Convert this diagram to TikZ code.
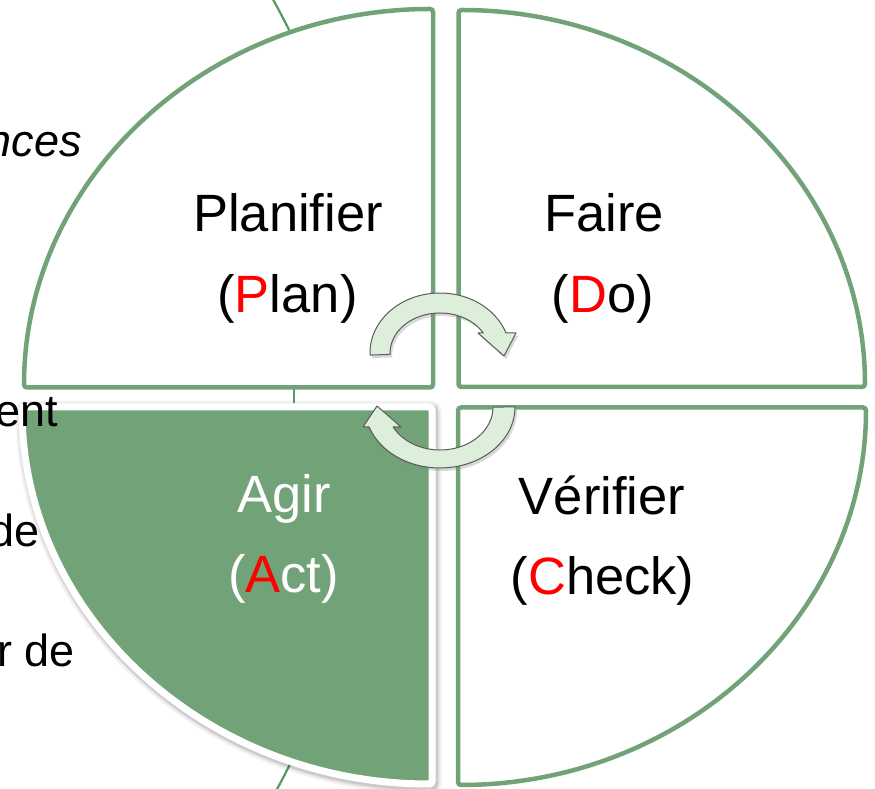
\documentclass[tikz,border=0pt]{standalone}
\usepackage{fontspec}
\setmainfont{Liberation Sans}
\usetikzlibrary{shadows}
\definecolor{qgreen}{RGB}{114,163,120}
\definecolor{thingreen}{RGB}{86,154,98}
\definecolor{arrowfill}{RGB}{221,239,219}
\definecolor{arrowline}{RGB}{90,90,90}
\begin{document}
\begin{tikzpicture}[x=1pt,y=1pt,
  quad/.style={draw=qgreen, line width=4.5pt, fill=white, rounded corners=3pt},
  lbl/.style={font=\fontsize{52.5}{60}\selectfont, inner sep=0pt, anchor=base},
  side/.style={font=\fontsize{45}{50}\selectfont, inner sep=0pt, anchor=base east},
  thinline/.style={draw=thingreen, line width=2.2pt},
  carrow/.style={fill=arrowfill, draw=arrowline, line width=1pt, line join=round,
    drop shadow={opacity=0.3, shadow xshift=2pt, shadow yshift=-3pt}}
]
\useasboundingbox (0,0) rectangle (875,789);

% background lines
\coordinate (bc) at (-447,391);
\draw[thinline] (bc) ++(29.5:823pt) arc[start angle=29.5, end angle=24, radius=823pt];
\draw[thinline] (bc) ++(-24:823pt) arc[start angle=-24, end angle=-29.5, radius=823pt];
\draw[thinline] (294,386) -- (294,401);

% quadrants
\path[quad] (433,401.5) -- (24,401.5) arc[start angle=180, end angle=90, x radius=409pt, y radius=378.5pt] -- cycle;
\path[quad] (458.5,402) -- (458.5,779) arc[start angle=90, end angle=0, x radius=406.5pt, y radius=377pt] -- cycle;
\path[quad] (458,381.5) -- (866,381.5) arc[start angle=0, end angle=-90, x radius=408pt, y radius=377.5pt] -- cycle;

% Act shadow
\foreach \w/\o in {16/0.05, 12/0.07, 9/0.1} {
  \draw[line width=\w pt, black, opacity=\o, rounded corners=3pt, shift={(1.5,-2)}]
    (432,382) -- (432,5) arc[start angle=270, end angle=180, x radius=410pt, y radius=377pt] -- cycle;
}
\path[fill=qgreen, draw=white, line width=7pt, rounded corners=3pt]
  (432,382) -- (432,5) arc[start angle=270, end angle=180, x radius=410pt, y radius=377pt] -- cycle;

% curved arrows
\path[carrow] (370.04,433.9) arc[start angle=182, end angle=19.5, x radius=70pt, y radius=60pt]
  -- (516,456) -- (504,433) -- (478,456) -- (483.3,456)
  arc[start angle=30, end angle=182, x radius=50pt, y radius=40pt] -- cycle;
\path[carrow] (515,382) arc[start angle=0, end angle=-160.9, x radius=75pt, y radius=61pt]
  -- (363,362) -- (377,383) -- (401,362) -- (393.1,362)
  arc[start angle=-152.3, end angle=0, x radius=53pt, y radius=43pt] -- cycle;

% labels
\node[lbl] (plan1) at (288,557) {Planifier};
\node[lbl] (plan2) at (287.5,476) {(\textcolor{red}{P}lan)};
\node[lbl] (do1) at (604,557) {Faire};
\node[lbl] (do2) at (603,476) {(\textcolor{red}{D}o)};
\node[lbl] (chk1) at (602,274) {Vérifier};
\node[lbl] (chk2) at (602.5,194) {(\textcolor{red}{C}heck)};
\node[lbl, text=white] (act1) at (284,276) {Agir};
\node[lbl, text=white] (act2) at (283.5,196) {(\textcolor{red}{A}ct)};

% side texts
\node[side] (s1) at (82,632.3) {\itshape nces};
\node[side] (s2) at (58,362.3) {ent};
\node[side] (s3) at (40,242.3) {de};
\node[side] (s4) at (75,122.3) {r de};
\end{tikzpicture}
\end{document}
